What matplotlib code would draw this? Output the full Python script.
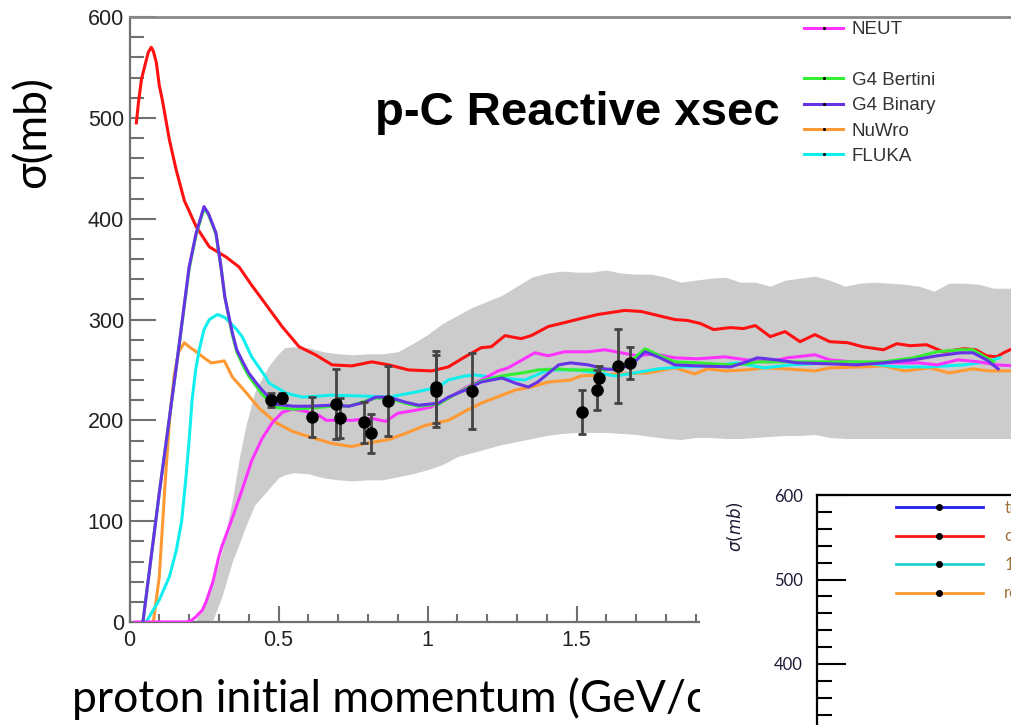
import matplotlib
matplotlib.use("Agg")
import matplotlib.pyplot as plt
from matplotlib.lines import Line2D
from matplotlib.patches import Rectangle
from matplotlib.ticker import MultipleLocator

# ---- data ----
band_x = [0.22, 0.28, 0.31, 0.345, 0.37, 0.39, 0.42, 0.45, 0.47, 0.5, 0.52, 0.55, 0.6, 0.65, 0.7,
          0.75, 0.8, 0.85, 0.9, 0.95, 1.0, 1.05, 1.1, 1.15, 1.2, 1.25, 1.3, 1.35, 1.4, 1.45, 1.5,
          1.55, 1.6, 1.65, 1.7, 1.75, 1.8, 1.85, 1.9, 1.95, 2.0, 2.05, 2.1, 2.15, 2.2, 2.25, 2.3,
          2.35, 2.4, 2.45, 2.5, 2.55, 2.6, 2.65, 2.7, 2.75, 2.8, 2.85, 2.9, 2.95, 3.0]
band_hi = [0, 39, 70, 121, 165, 194, 228, 245, 255, 266, 272, 273, 272, 268, 266,
           265, 266, 266, 268, 276, 285, 296, 304, 312, 318, 324, 333, 342, 346, 348, 347,
           347, 349, 346, 345, 345, 342, 337, 339, 341, 342, 337, 337, 333, 339, 341, 343,
           339, 333, 336, 337, 336, 335, 333, 328, 336, 336, 335, 331, 331, 331]
band_lo = [0, 2, 25, 60, 79, 95, 116, 126, 133, 143, 146, 148, 147, 143, 141,
           140, 141, 141, 144, 147, 151, 156, 164, 168, 172, 176, 179, 182, 185, 187, 188,
           188, 188, 187, 186, 184, 182, 181, 183, 183, 182, 182, 183, 184, 185, 185, 186,
           183, 182, 182, 182, 182, 182, 182, 182, 182, 182, 182, 182, 182, 182]

neut_x = [0.02, 0.19, 0.21, 0.222, 0.245, 0.257, 0.28, 0.3, 0.31, 0.345, 0.38, 0.41, 0.445, 0.48,
          0.513, 0.547, 0.59, 0.635, 0.66, 0.746, 0.81, 0.86, 0.9, 0.96, 1.01, 1.07, 1.126, 1.18,
          1.237, 1.27, 1.36, 1.405, 1.46, 1.54, 1.595, 1.65, 1.705, 1.76, 1.83, 1.906, 1.997,
          2.07, 2.15, 2.207, 2.3, 2.35, 2.46, 2.575, 2.65, 2.71, 2.78, 2.85, 2.91, 2.97]
neut_y = [0, 0, 2, 5, 12, 20, 40, 65, 75, 103, 133, 160, 182, 198,
          208, 211, 209, 205, 200, 200, 202, 199, 207, 210, 213, 222, 232, 240,
          249, 252, 267, 264, 268, 268, 270, 267, 264, 266, 262, 261, 263,
          260, 258, 262, 265, 260, 257, 257, 257, 255, 260, 258, 255, 254]

bert_x = [0.045, 0.1, 0.157, 0.2, 0.224, 0.25, 0.265, 0.29, 0.307, 0.32, 0.345, 0.36, 0.38, 0.4,
          0.445, 0.49, 0.55, 0.6, 0.68, 0.736, 0.79, 0.826, 0.87, 0.926, 0.97, 1.037, 1.07, 1.126,
          1.18, 1.25, 1.294, 1.338, 1.37, 1.44, 1.48, 1.54, 1.595, 1.64, 1.695, 1.73, 1.773, 1.83,
          1.906, 2.017, 2.07, 2.107, 2.17, 2.24, 2.35, 2.44, 2.53, 2.63, 2.71, 2.79, 2.83, 2.876, 2.9]
bert_y = [0, 128, 253, 350, 385, 410, 404, 385, 352, 322, 285, 268, 255, 244,
          226, 213, 211, 212, 214, 214, 219, 222, 222, 217, 214, 216, 222, 231,
          239, 244, 246, 248, 250, 251, 250, 250, 250, 252, 262, 271, 265, 258,
          257, 255, 256, 258, 258, 258, 258, 258, 258, 262, 268, 270, 270, 262, 258]

bin_x = [0.045, 0.1, 0.157, 0.2, 0.224, 0.25, 0.265, 0.29, 0.307, 0.32, 0.345, 0.36, 0.38, 0.4,
         0.423, 0.445, 0.49, 0.55, 0.6, 0.68, 0.736, 0.79, 0.826, 0.87, 0.926, 0.97, 1.037, 1.07,
         1.126, 1.18, 1.25, 1.294, 1.338, 1.37, 1.44, 1.48, 1.54, 1.595, 1.64, 1.695, 1.73, 1.773,
         1.83, 1.906, 2.017, 2.07, 2.107, 2.17, 2.24, 2.35, 2.44, 2.53, 2.63, 2.71, 2.79, 2.83,
         2.876, 2.915]
bin_y = [0, 128, 253, 352, 386, 412, 405, 386, 352, 322, 287, 270, 258, 247,
         238, 230, 216, 214, 214, 215, 214, 218, 223, 223, 218, 215, 217, 223,
         230, 238, 242, 237, 233, 238, 255, 257, 255, 251, 250, 258, 268, 263,
         255, 254, 253, 258, 262, 260, 257, 256, 255, 257, 260, 264, 267, 267,
         260, 251]

nuwro_x = [0.08, 0.1, 0.12, 0.135, 0.15, 0.165, 0.184, 0.2, 0.224, 0.25, 0.274, 0.3, 0.318, 0.33,
           0.345, 0.39, 0.435, 0.49, 0.547, 0.6, 0.68, 0.746, 0.79, 0.87, 0.926, 0.993, 1.07,
           1.126, 1.18, 1.25, 1.294, 1.348, 1.405, 1.48, 1.515, 1.63, 1.74, 1.83, 1.896, 1.94,
           2.0, 2.07, 2.13, 2.2, 2.3, 2.35, 2.46, 2.53, 2.6, 2.686, 2.75, 2.83, 2.886, 2.95, 3.0]
nuwro_y = [0, 45, 140, 203, 245, 268, 277, 273, 268, 262, 257, 258, 259, 252,
           243, 228, 212, 198, 189, 184, 177, 174, 177, 181, 187, 195, 200,
           209, 217, 225, 230, 233, 238, 240, 244, 246, 247, 252, 246, 251,
           249, 250, 252, 251, 249, 252, 253, 254, 249, 252, 247, 251, 249, 249, 249]

fluka_x = [0.056, 0.1, 0.134, 0.157, 0.175, 0.19, 0.2, 0.21, 0.222, 0.234, 0.25, 0.268, 0.295,
           0.32, 0.334, 0.36, 0.378, 0.41, 0.424, 0.457, 0.468, 0.525, 0.58, 0.68, 0.79, 0.87,
           0.96, 1.037, 1.07, 1.126, 1.16, 1.237, 1.327, 1.405, 1.495, 1.572, 1.63, 1.695, 1.773,
           1.85, 1.96, 2.04, 2.13, 2.22, 2.35, 2.46, 2.575, 2.686, 2.8, 2.876, 2.92]
fluka_y = [0, 22, 45, 71, 100, 145, 180, 220, 250, 270, 290, 300, 305,
           302, 298, 290, 283, 263, 257, 243, 237, 227, 223, 225, 224, 223,
           228, 233, 240, 244, 245, 242, 240, 250, 250, 247, 244, 247, 251,
           253, 254, 257, 252, 255, 257, 257, 253, 253, 255, 258, 262]

red_x = [0.023, 0.03, 0.04, 0.05, 0.063, 0.073, 0.08, 0.09, 0.1, 0.11, 0.134, 0.157, 0.184, 0.224,
         0.268, 0.324, 0.368, 0.41, 0.445, 0.512, 0.569, 0.624, 0.68, 0.746, 0.813, 0.87, 0.936,
         1.014, 1.07, 1.126, 1.18, 1.214, 1.26, 1.314, 1.348, 1.405, 1.461, 1.515, 1.572, 1.662,
         1.716, 1.773, 1.829, 1.873, 1.916, 1.96, 2.017, 2.06, 2.1, 2.15, 2.2, 2.25, 2.3, 2.35,
         2.41, 2.46, 2.53, 2.575, 2.62, 2.675, 2.73, 2.8, 2.84, 2.876, 2.91, 2.94, 2.97]
red_y = [495, 515, 538, 550, 565, 570, 566, 555, 532, 518, 478, 448, 418, 392,
         372, 362, 352, 334, 320, 293, 273, 265, 255, 254, 258, 255, 250,
         249, 253, 263, 272, 273, 284, 281, 284, 293, 297, 301, 305, 309,
         308, 304, 300, 299, 296, 290, 292, 291, 294, 283, 288, 278, 285, 278,
         277, 273, 270, 276, 274, 275, 268, 271, 270, 264, 263, 268, 272]

data_x = [0.474, 0.513, 0.612, 0.692, 0.706, 0.786, 0.809, 0.866, 1.03, 1.03, 1.148,
          1.518, 1.568, 1.574, 1.64, 1.68]
data_y = [220, 222, 203, 216, 202, 198, 187, 219, 229, 233, 229, 208, 230, 242, 254, 257]
data_err = [7, 5, 20, 35, 20, 20, 19, 35, 36, 36, 38, 22, 20, 12, 37, 16]

x_tick_labels = ["0", "0.5", "1", "1.5", "2", "2.5", "3"]
inset_labels = ["total", "ccqe", "1pi", "res"]
inset_colors = ["#1f1ff0", "#ff1a1a", "#22d0d0", "#ff9933"]

# ---- figure ----
W, H = 1011, 725
fig = plt.figure(figsize=(W / 100, H / 100), dpi=100)
fig.patch.set_facecolor("white")

axis_gray = "#707070"
ax = fig.add_axes([129.5 / W, 1 - 622 / H, 3.0 * 298 / W, 605 / H])
ax.set_xlim(0, 3.0)
ax.set_ylim(0, 600)

ax.fill_between(band_x, band_lo, band_hi, color="#cccccc", lw=0, zorder=1)

lw = 2.2
ax.plot(red_x, red_y, color="#ff1111", lw=lw, zorder=3)
ax.plot(nuwro_x, nuwro_y, color="#ff9933", lw=lw, zorder=3)
ax.plot(fluka_x, fluka_y, color="#11eeee", lw=lw, zorder=3)
ax.plot(neut_x, neut_y, color="#ff33ff", lw=lw, zorder=3)
ax.plot(bert_x, bert_y, color="#33ee33", lw=lw, zorder=3)
ax.plot(bin_x, bin_y, color="#6633e6", lw=lw, zorder=3)

ax.errorbar(data_x, data_y, yerr=data_err, fmt="o", color="black", ms=8,
            ecolor="#444444", elinewidth=2, capsize=3, capthick=2, zorder=5)

ax.xaxis.set_major_locator(MultipleLocator(0.5))
ax.xaxis.set_minor_locator(MultipleLocator(0.1))
ax.yaxis.set_major_locator(MultipleLocator(100))
ax.yaxis.set_minor_locator(MultipleLocator(20))
ax.set_xticks([0, 0.5, 1, 1.5, 2, 2.5, 3])
ax.set_xticklabels(x_tick_labels)
ax.tick_params(axis="y", which="major", direction="in", length=19, width=1.5,
               color=axis_gray, pad=4, labelsize=15.5, labelcolor="#222222")
ax.tick_params(axis="y", which="minor", direction="in", length=10, width=1.5, color=axis_gray)
ax.tick_params(axis="x", which="major", direction="in", length=11.5, width=1.5,
               color=axis_gray, pad=6, labelsize=15.5, labelcolor="#222222")
ax.tick_params(axis="x", which="minor", direction="in", length=6, width=1.5, color=axis_gray)
for lab in ax.get_xticklabels() + ax.get_yticklabels():
    lab.set_family("Liberation Sans")
for side in ["left", "bottom"]:
    ax.spines[side].set_color(axis_gray)
    ax.spines[side].set_linewidth(1.6)
ax.spines["top"].set_color("#888888")
ax.spines["top"].set_linewidth(2)
ax.spines["right"].set_visible(False)

# legend of the main plot (blank row between NEUT and G4 Bertini)
def leg_line(c):
    return Line2D([], [], color=c, lw=2.2, marker=".", ms=2.5, mfc="black", mec="black")

handles = [leg_line("#ff33ff"), Line2D([], [], color="none"), leg_line("#33ee33"),
           leg_line("#6633e6"), leg_line("#ff9933"), leg_line("#11eeee")]
labels = ["NEUT", " ", "G4 Bertini", "G4 Binary", "NuWro", "FLUKA"]
leg = fig.legend(handles, labels, loc="upper left", bbox_to_anchor=(804 / W, 1 - 21 / H),
                 frameon=False, borderpad=0, borderaxespad=0, handlelength=2.1,
                 handletextpad=0.45, labelspacing=0.44,
                 prop={"family": "Liberation Sans", "size": 13.5})
for t in leg.get_texts():
    t.set_color("#333333")

fig.text(375 / W, 1 - 125 / H, "p-C Reactive xsec", fontsize=34, fontweight="bold",
         family="Liberation Sans", ha="left", va="baseline")
fig.text(33 / W, 1 - 132 / H, "σ(mb)", fontsize=32, family=["Lato", "DejaVu Sans"],
         rotation=90, ha="center", va="center")
ax.text(72 / W, 1 - 712 / H, "proton initial momentum (GeV/c)", fontsize=32,
        family=["Lato", "DejaVu Sans"], ha="left", va="baseline", transform=fig.transFigure)

# white panel of the overlaid second plot
fig.patches.append(Rectangle((700 / W, 0), 1 - 700 / W, 1 - 465 / H, transform=fig.transFigure,
                             facecolor="white", edgecolor="none", zorder=1))

ins = fig.add_axes([817 / W, 1 - 790.75 / H, 420 / W, 295.75 / H], zorder=2)
ins.set_ylim(250, 600)
ins.set_xlim(0, 1)
ins.yaxis.set_major_locator(MultipleLocator(100))
ins.yaxis.set_minor_locator(MultipleLocator(20))
ins.set_xticks([])
ins.tick_params(axis="y", which="major", direction="in", length=21, width=1.5, pad=10,
                labelsize=12, labelcolor="#1a1a33")
ins.tick_params(axis="y", which="minor", direction="in", length=11, width=1.5)
for lab in ins.get_yticklabels():
    lab.set_family(["Lato", "DejaVu Sans"])
for side in ["top", "left"]:
    ins.spines[side].set_linewidth(1.6)
    ins.spines[side].set_color("black")
ins.spines["right"].set_visible(False)
ins.spines["bottom"].set_visible(False)
ins.set_ylabel(r"$\sigma(mb)$", fontsize=12, color="#1a1a33", labelpad=14)
ins.yaxis.set_label_coords(-72 / 420, (790.75 - 527) / 295.75)

ins_handles = [Line2D([], [], color=c, lw=2, marker="o", ms=4, mfc="black", mec="black")
               for c in inset_colors]
ileg = ins.legend(ins_handles, inset_labels, loc="upper left",
                  bbox_to_anchor=((896 - 817) / 420, (790.75 - 500) / 295.75),
                  frameon=False, borderpad=0, borderaxespad=0, handlelength=5.2,
                  handletextpad=1.3, labelspacing=0.75, prop={"family": "Lato", "size": 12})
for t in ileg.get_texts():
    t.set_color("#a0703a")

fig.savefig("out.png", dpi=100)
